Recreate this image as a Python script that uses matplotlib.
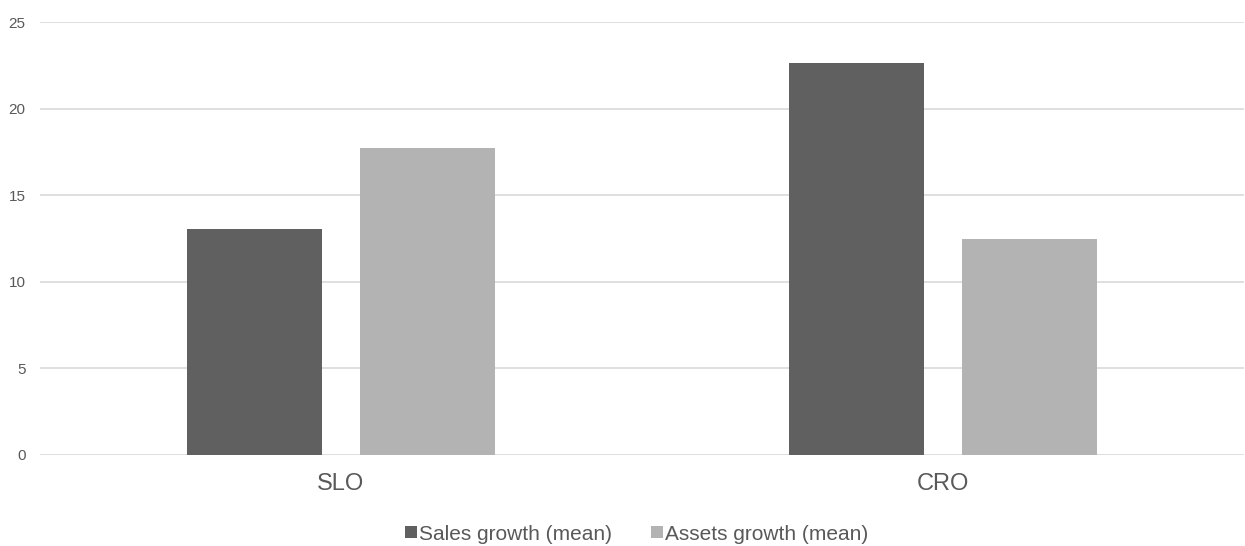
import matplotlib

matplotlib.use("Agg")
import matplotlib.pyplot as plt
import numpy as np

# Data
categories = ["SLO", "CRO"]
sales_growth = [13.05, 22.63]
assets_growth = [17.73, 12.47]
series_names = ["Sales growth (mean)", "Assets growth (mean)"]
y_ticks = [0, 5, 10, 15, 20, 25]

DARK = "#606060"
LIGHT = "#b3b3b3"
TEXT = "#595959"
GRID = "#d9d9d9"

plt.rcParams["font.family"] = ["Liberation Sans", "DejaVu Sans"]

fig = plt.figure(figsize=(12.45, 5.46), dpi=100)
ax = fig.add_axes([40 / 1245, 1 - 455 / 546, 1204 / 1245, 433 / 546])

x = np.arange(len(categories))
width = 0.224
offset = 0.143
ax.bar(x - offset, sales_growth, width, color=DARK, label=series_names[0], zorder=3)
ax.bar(x + offset, assets_growth, width, color=LIGHT, label=series_names[1], zorder=3)

ax.set_xlim(-0.5, len(categories) - 0.5)
ax.set_ylim(0, 25)
ax.set_yticks(y_ticks)
ax.set_xticks(x, labels=categories)

ax.grid(axis="y", color=GRID, linewidth=1.2, zorder=0)
for side in ["top", "right", "left", "bottom"]:
    ax.spines[side].set_visible(False)
ax.tick_params(axis="y", length=0, pad=10.5, labelsize=11, labelcolor=TEXT)
ax.tick_params(axis="x", length=0, pad=13, labelsize=17, labelcolor=TEXT)

leg = fig.legend(
    loc="center",
    bbox_to_anchor=(636.5 / 1245, 1 - 534 / 546),
    ncol=2,
    frameon=False,
    fontsize=15,
    handlelength=0.57,
    handleheight=0.55,
    handletextpad=0.12,
    columnspacing=1.86,
    borderpad=0,
)
for t in leg.get_texts():
    t.set_color(TEXT)

fig.savefig("out.png", dpi=100)
